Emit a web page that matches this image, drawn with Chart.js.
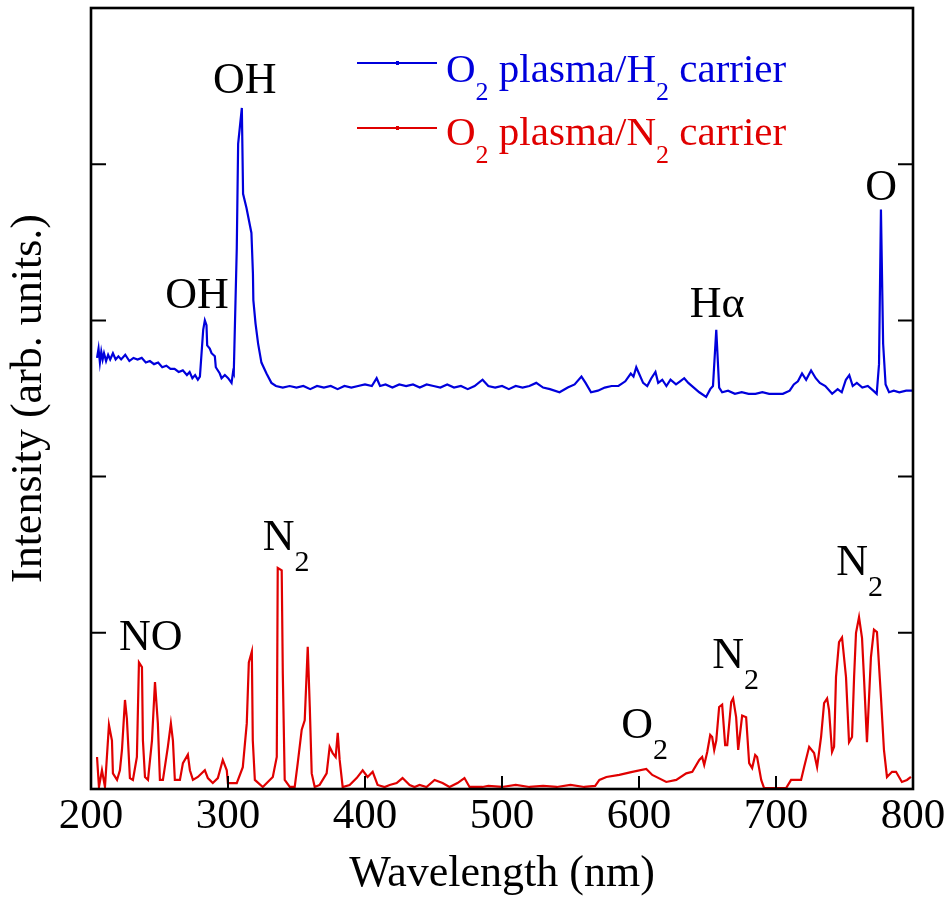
<!DOCTYPE html>
<html>
<head>
<meta charset="utf-8">
<script src="https://cdn.jsdelivr.net/npm/chart.js@4.4.1/dist/chart.umd.min.js"></script>
<style>
  html, body { margin: 0; padding: 0; background: #fff; }
  canvas { display: block; }
</style>
</head>
<body>
<canvas id="spectra" width="951" height="904"></canvas>
<script>
// Optical emission spectra: O2 plasma with H2 carrier (upper trace) and N2 carrier (lower trace)
const wavelengthH2 = [
  204.4, 205.5, 206.5, 207.5, 208.5, 209.5, 211, 212.5, 214, 216, 218, 220, 222, 225, 228, 231, 234, 237,
  240, 243, 246, 249, 252, 255, 258, 261, 264, 267, 270, 272, 274, 276, 278, 279.5, 281.9, 283.1, 284.3,
  284.8, 286.7, 288.0, 290.4, 291.1, 294.0, 295.3, 297.7, 300.1, 302.6, 303.7, 304.2, 306.4, 307.4, 310.1,
  311.0, 313.5, 317.1, 318.2, 318.5, 320.1, 322.0, 324.4, 328.1, 331.7, 335, 340, 345, 350, 355, 360, 365,
  370, 375, 380, 385, 390, 395, 400, 405, 408.5, 411, 415, 420, 425, 430, 435, 440, 445, 450, 455, 460, 465,
  470, 475, 480, 485.8, 490, 495, 500, 505, 510, 515, 520, 525, 530, 535, 542, 548, 553, 558, 561, 565, 570,
  575, 580, 585, 590, 594, 596, 598, 600, 603, 606, 609, 612, 614, 617, 620, 623, 627, 630, 633, 636, 640,
  644, 649, 652, 654, 656.4, 658.5, 660.7, 665, 670, 675, 680, 685, 690, 695, 700, 705, 710, 713, 716, 719,
  722, 725.6, 729, 732, 736, 741, 745, 748, 751, 753.5, 756, 759, 763, 767, 771, 773.5, 775.2, 776.6, 778.2,
  780, 782.5, 786, 790, 795, 800
];
const intensityH2 = [
  2.76, 2.82, 2.73, 2.80, 2.75, 2.79, 2.74, 2.78, 2.75, 2.79, 2.75, 2.77, 2.75, 2.78, 2.74, 2.76, 2.75, 2.76,
  2.73, 2.74, 2.72, 2.73, 2.70, 2.71, 2.69, 2.69, 2.67, 2.68, 2.65, 2.67, 2.63, 2.65, 2.62, 2.64, 2.94, 3.00, 2.97,
  2.84, 2.82, 2.79, 2.77, 2.70, 2.66, 2.63, 2.65, 2.63, 2.60, 2.67, 2.66, 3.46, 4.13, 4.36,
  3.81, 3.72, 3.56, 3.30, 3.13, 2.98, 2.85, 2.73, 2.66, 2.60, 2.58, 2.57, 2.58, 2.57, 2.58, 2.56, 2.58,
  2.57, 2.58, 2.56, 2.58, 2.57, 2.58, 2.59, 2.58, 2.63, 2.58, 2.59, 2.57, 2.59, 2.58, 2.59, 2.57, 2.59, 2.58, 2.57, 2.59, 2.57,
  2.58, 2.56, 2.58, 2.62, 2.58, 2.57, 2.58, 2.56, 2.58, 2.57, 2.58, 2.60, 2.57, 2.56, 2.54, 2.57, 2.59, 2.64, 2.60, 2.54, 2.55,
  2.57, 2.58, 2.58, 2.61, 2.66, 2.64, 2.70, 2.66, 2.60, 2.58, 2.63, 2.67, 2.60, 2.62, 2.58, 2.62, 2.59, 2.61, 2.63, 2.60, 2.57,
  2.54, 2.51, 2.56, 2.58, 2.94, 2.57, 2.54, 2.55, 2.53, 2.54, 2.53, 2.53, 2.54, 2.53, 2.53, 2.53, 2.55, 2.59, 2.61, 2.66,
  2.62, 2.68, 2.63, 2.60, 2.58, 2.53, 2.56, 2.54, 2.62, 2.65, 2.58, 2.60, 2.57, 2.58, 2.55, 2.53, 2.72, 3.71, 2.85,
  2.59, 2.54, 2.55, 2.54, 2.55, 2.55
];

const wavelengthN2 = [
  204.4, 205.8, 208.0, 210.2, 213.1, 215.3, 216.0, 219.0, 221.1, 222.6, 224.8, 226.2, 228.4, 230.6, 233.5,
  235.0, 237.2, 237.9, 239.4, 241.6, 244.5, 246.7, 248.8, 250.3, 252.5, 256.1, 258.3, 259.8, 261.2, 264.9,
  267.1, 270.7, 272.2, 274.4, 278.0, 283.1, 285.3, 288.9, 292.6, 296.2, 299.1, 299.9, 306.4, 310.8, 313.7,
  315.2, 317.4, 318.1, 319.6, 325.4, 332.7, 335.6, 336.3, 339.2, 340.0, 341.4, 345.1, 348.7, 350.9, 353.8,
  356.0, 357.5, 358.2, 359.7, 361.1, 363.3, 366.9, 372.0, 374.2, 376.4, 378.6, 380.1, 381.5, 383.7, 388.8,
  393.9, 398.3, 401.9, 405.6, 409.2, 414.3, 418.0, 423.1, 427.4, 432.6, 436.2, 439.8, 444.9, 450.8, 456.6,
  461.7, 467.5, 472.6, 476.3, 485.8, 490, 500, 510, 520, 530, 540, 550, 560, 568, 571.1, 576.2, 585.6,
  595.1, 605.3, 609.7, 619.9, 627.2, 634.5, 638.9, 644.0, 646.1, 647.6, 649.8, 652.0, 653.4, 654.9, 656.4,
  658.5, 660.7, 662.9, 664.4, 667.3, 668.7, 670.9, 672.4, 675.3, 678.2, 680.4, 682.6, 684.8, 686.2, 689.2,
  691.3, 707.4, 711.0, 718.3, 720.5, 724.2, 727.8, 730.0, 732.9, 735.1, 737.3, 738.7, 740.9, 742.4, 743.8,
  746.0, 748.2, 751.1, 753.3, 755.5, 757.0, 758.4, 760.6, 762.8, 764.2, 766.4, 769.3, 771.5, 773.7, 776.6,
  778.8, 781.0, 784.7, 787.6, 791.9, 795.6, 798.5
];
const intensityN2 = [
  0.205, 0.013, 0.12, 0.013, 0.41, 0.31, 0.10, 0.058, 0.12, 0.25, 0.57, 0.45, 0.07, 0.058, 0.205,
  0.81, 0.78, 0.31, 0.077, 0.058, 0.31, 0.685, 0.42, 0.058, 0.058, 0.27, 0.42, 0.31, 0.058, 0.058,
  0.166, 0.22, 0.12, 0.058, 0.077, 0.12, 0.07, 0.038, 0.07, 0.186, 0.12, 0.038, 0.038, 0.14, 0.42,
  0.81, 0.88, 0.31, 0.058, 0.013, 0.077, 0.205, 1.415, 1.40, 0.74, 0.058, 0.013, 0.013, 0.166, 0.38,
  0.44, 0.76, 0.91, 0.525, 0.10, 0.013, 0.026, 0.10, 0.27, 0.23, 0.205, 0.36, 0.186, 0.013, 0.026,
  0.07, 0.12, 0.077, 0.11, 0.026, 0.013, 0.026, 0.038, 0.07, 0.026, 0.013, 0.026, 0.013, 0.058, 0.038,
  0.013, 0.038, 0.07, 0.013, 0.013, 0.02, 0.013, 0.026, 0.013, 0.02, 0.013, 0.026, 0.013, 0.02, 0.058, 0.077, 0.09,
  0.11, 0.128, 0.09, 0.045, 0.058, 0.10, 0.11, 0.186, 0.205, 0.154, 0.237, 0.346, 0.333, 0.25, 0.31,
  0.525, 0.54, 0.28, 0.28, 0.557, 0.58, 0.46, 0.25, 0.47, 0.46, 0.166, 0.134, 0.218, 0.205, 0.058,
  0.006, 0.006, 0.058, 0.058, 0.14, 0.27, 0.23, 0.14, 0.333, 0.55, 0.58, 0.506, 0.237, 0.27, 0.717,
  0.94, 0.97, 0.717, 0.30, 0.333, 0.717, 1.0, 1.10, 0.966, 0.717, 0.30, 0.845, 1.02, 1.005, 0.59,
  0.25, 0.077, 0.11, 0.11, 0.045, 0.058, 0.077
];

const wavelengthTicks = [200, 300, 400, 500, 600, 700, 800];
const intensityTicks = [0, 1, 2, 3, 4, 5];

const BLUE = '#0000dc';
const RED = '#e00000';
const SERIF = "'Liberation Serif', 'Times New Roman', Times, serif";

function toPoints(xs, ys) {
  return xs.map((x, i) => ({ x: x, y: ys[i] }));
}

// Draws a run of text pieces, where pieces flagged as subscripts are smaller and lowered.
function drawRichText(ctx, pieces, x, baseline, align, size, subSize, subDrop, color) {
  const widths = pieces.map(p => {
    ctx.font = (p[1] ? subSize : size) + 'px ' + SERIF;
    return ctx.measureText(p[0]).width;
  });
  const total = widths.reduce((a, b) => a + b, 0);
  let cx = align === 'center' ? x - total / 2 : x;
  ctx.fillStyle = color;
  ctx.textAlign = 'left';
  ctx.textBaseline = 'alphabetic';
  pieces.forEach((p, i) => {
    ctx.font = (p[1] ? subSize : size) + 'px ' + SERIF;
    ctx.fillText(p[0], cx, p[1] ? baseline + subDrop : baseline);
    cx += widths[i];
  });
}

// Box around the plot area with inward tick marks on the bottom, left and right edges.
const framePlugin = {
  id: 'frame',
  afterDraw(chart) {
    const { ctx, chartArea: a, scales: { x, y } } = chart;
    ctx.save();
    ctx.strokeStyle = '#000';
    ctx.lineWidth = 2;
    ctx.beginPath();
    x.ticks.forEach(t => {
      const px = x.getPixelForValue(t.value);
      if (px > a.left + 2 && px < a.right - 2) {
        ctx.moveTo(px, a.bottom);
        ctx.lineTo(px, a.bottom - 13);
      }
    });
    y.ticks.forEach(t => {
      const py = y.getPixelForValue(t.value);
      if (py > a.top + 2 && py < a.bottom - 2) {
        ctx.moveTo(a.left, py);
        ctx.lineTo(a.left + 15, py);
        ctx.moveTo(a.right, py);
        ctx.lineTo(a.right - 15, py);
      }
    });
    ctx.stroke();
    ctx.lineWidth = 2.6;
    ctx.strokeRect(a.left, a.top, a.right - a.left, a.bottom - a.top);
    ctx.restore();
  }
};

// Species labels placed at wavelength / intensity positions, plus the legend.
const labelPlugin = {
  id: 'speciesLabels',
  afterDatasetsDraw(chart) {
    const { ctx, chartArea: a, scales: { x, y } } = chart;
    const labels = [
      { pieces: [['OH']], wl: 312.3, at: 4.456, align: 'center' },
      { pieces: [['OH']], wl: 277.3, at: 3.079, align: 'center' },
      { pieces: [['H\u03b1']], wl: 657.1, at: 3.022, align: 'center' },
      { pieces: [['O']], wl: 776.7, at: 3.771, align: 'center' },
      { pieces: [['NO']], wl: 243.7, at: 0.89, align: 'center' },
      { pieces: [['N'], ['2', 1]], wl: 325.4, at: 1.53, align: 'left' },
      { pieces: [['O'], ['2', 1]], wl: 587.1, at: 0.327, align: 'left' },
      { pieces: [['N'], ['2', 1]], wl: 653.5, at: 0.775, align: 'left' },
      { pieces: [['N'], ['2', 1]], wl: 743.9, at: 1.37, align: 'left' }
    ];
    ctx.save();
    labels.forEach(l => {
      drawRichText(ctx, l.pieces, x.getPixelForValue(l.wl), y.getPixelForValue(l.at),
        l.align, 44, 30, 21, '#000');
    });

    const legend = [
      { color: BLUE, pieces: [['O'], ['2', 1], [' plasma/H'], ['2', 1], [' carrier']], lineY: a.top + 55, textY: a.top + 74 },
      { color: RED, pieces: [['O'], ['2', 1], [' plasma/N'], ['2', 1], [' carrier']], lineY: a.top + 120, textY: a.top + 137 }
    ];
    legend.forEach((item, i) => {
      const ds = chart.data.datasets[i];
      ctx.strokeStyle = ds.borderColor;
      ctx.lineWidth = 2.2;
      ctx.beginPath();
      ctx.moveTo(a.left + 266, item.lineY);
      ctx.lineTo(a.left + 346, item.lineY);
      ctx.stroke();
      ctx.fillStyle = ds.borderColor;
      ctx.fillRect(a.left + 305, item.lineY - 2, 3, 4);
      drawRichText(ctx, item.pieces, a.left + 355, item.textY, 'left', 41, 26, 18, item.color);
    });
    ctx.restore();
  }
};

new Chart(document.getElementById('spectra'), {
  type: 'line',
  data: {
    datasets: [
      {
        label: 'O2 plasma/H2 carrier',
        data: toPoints(wavelengthH2, intensityH2),
        borderColor: BLUE,
        borderWidth: 2.2,
        pointRadius: 0,
        tension: 0,
        fill: false
      },
      {
        label: 'O2 plasma/N2 carrier',
        data: toPoints(wavelengthN2, intensityN2),
        borderColor: RED,
        borderWidth: 2.2,
        pointRadius: 0,
        tension: 0,
        fill: false
      }
    ]
  },
  options: {
    responsive: false,
    animation: false,
    devicePixelRatio: 1,
    layout: { padding: { left: 0, right: 38, top: 8, bottom: 0 } },
    plugins: {
      legend: { display: false },
      tooltip: { enabled: false }
    },
    scales: {
      x: {
        type: 'linear',
        min: 200,
        max: 800,
        afterBuildTicks: s => { s.ticks = wavelengthTicks.map(v => ({ value: v })); },
        afterFit: s => { s.height = 115; },
        grid: { display: false, drawTicks: false },
        border: { display: false },
        ticks: {
          font: { family: SERIF, size: 43 },
          color: '#000',
          padding: 2,
          maxRotation: 0,
          autoSkip: false
        },
        title: {
          display: true,
          text: 'Wavelength (nm)',
          font: { family: SERIF, size: 44 },
          color: '#000',
          padding: { top: 0, bottom: 3 }
        }
      },
      y: {
        type: 'linear',
        min: 0,
        max: 5,
        afterBuildTicks: s => { s.ticks = intensityTicks.map(v => ({ value: v })); },
        afterFit: s => { s.width = 91; },
        grid: { display: false, drawTicks: false },
        border: { display: false },
        ticks: { display: false },
        title: {
          display: true,
          text: 'Intensity (arb. units.)',
          font: { family: SERIF, size: 44 },
          color: '#000',
          padding: { top: 3, bottom: 0 }
        }
      }
    }
  },
  plugins: [framePlugin, labelPlugin]
});
</script>
</body>
</html>
